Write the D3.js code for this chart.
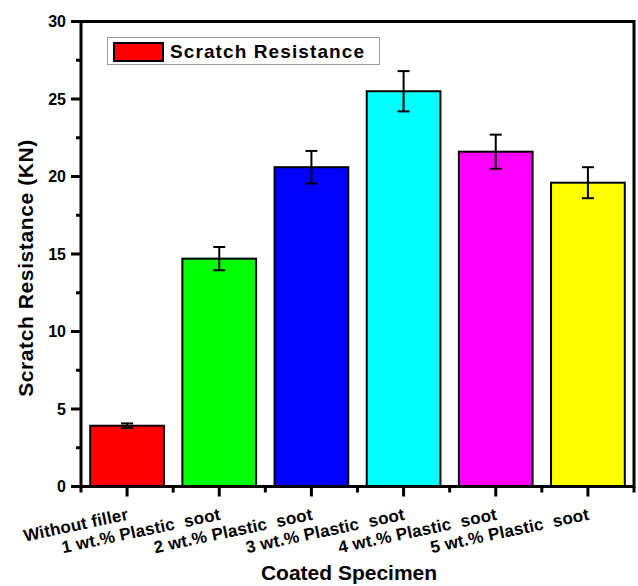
<!DOCTYPE html>
<html>
<head>
  <meta charset="UTF-8">
  <style>
    body { margin: 0; background: #fff; }
    text { font-family: Arial, "Liberation Sans", sans-serif; font-weight: bold; }
  </style>
</head>
<body>
<svg></svg>
<script src="https://d3js.org/d3.v7.min.js"></script>
<script>

let width = 638, height = 586;

// data
let categories = ["Without filler", "1 wt.% Plastic  soot", "2 wt.% Plastic  soot",
                  "3 wt.% Plastic  soot", "4 wt.% Plastic  soot", "5 wt.% Plastic  soot"];
let values = [3.92, 14.7, 20.6, 25.5, 21.6, 19.6];
let errors = [0.15, 0.75, 1.05, 1.3, 1.1, 1.0];
let colors = ["#ff0000", "#00ff00", "#0000ff", "#00ffff", "#ff00ff", "#ffff00"];
let yTicks = [0, 5, 10, 15, 20, 25, 30];

let margin = {left: 81, right: 4, top: 21.5, bottom: 99.5};

let svg = d3.select("svg")
    .attr("width", width)
    .attr("height", height);

let x = d3.scaleBand()
    .domain(categories)
    .range([margin.left, width - margin.right])
    .paddingInner(0.2)
    .paddingOuter(0.1);

let y = d3.scaleLinear()
    .domain([0, 30])
    .range([height - margin.bottom, margin.top]);

let y0 = y(0);

// bars
svg.append("g")
    .selectAll("rect")
    .data(values)
    .enter()
    .append("rect")
    .attr("x", (d, i) => x(categories[i]))
    .attr("y", d => y(d))
    .attr("width", x.bandwidth())
    .attr("height", d => y0 - y(d))
    .attr("fill", (d, i) => colors[i])
    .attr("stroke", "#000")
    .attr("stroke-width", 2);

// error bars
let eb = svg.append("g")
    .attr("stroke", "#000")
    .attr("stroke-width", 2);
values.forEach((v, i) => {
    let cx = x(categories[i]) + x.bandwidth() / 2;
    eb.append("line").attr("x1", cx).attr("x2", cx)
        .attr("y1", y(v + errors[i])).attr("y2", y(v - errors[i]));
    eb.append("line").attr("x1", cx - 6).attr("x2", cx + 6)
        .attr("y1", y(v + errors[i])).attr("y2", y(v + errors[i]));
    eb.append("line").attr("x1", cx - 6).attr("x2", cx + 6)
        .attr("y1", y(v - errors[i])).attr("y2", y(v - errors[i]));
});

// frame
svg.append("rect")
    .attr("x", margin.left)
    .attr("y", margin.top)
    .attr("width", width - margin.right - margin.left)
    .attr("height", y0 - margin.top)
    .attr("fill", "none")
    .attr("stroke", "#000")
    .attr("stroke-width", 3);

// y axis
let yAxis = svg.append("g");
yAxis.selectAll(".minor")
    .data(d3.range(2.5, 30, 5))
    .enter().append("line")
    .attr("x1", margin.left - 5).attr("x2", margin.left)
    .attr("y1", d => y(d)).attr("y2", d => y(d))
    .attr("stroke", "#000").attr("stroke-width", 3);
yAxis.selectAll(".major")
    .data(yTicks)
    .enter().append("line")
    .attr("x1", margin.left - 10).attr("x2", margin.left)
    .attr("y1", d => y(d)).attr("y2", d => y(d))
    .attr("stroke", "#000").attr("stroke-width", 3);
yAxis.selectAll("text")
    .data(yTicks)
    .enter().append("text")
    .attr("x", margin.left - 15)
    .attr("y", d => y(d))
    .attr("dy", "0.36em")
    .attr("text-anchor", "end")
    .attr("font-size", 16)
    .text(d => d);

// x axis ticks
let xAxis = svg.append("g");
let bounds = categories.map(c => x(c) - x.step() * x.paddingInner() / 2);
bounds.push(width - margin.right);
xAxis.selectAll(".minor")
    .data(bounds)
    .enter().append("line")
    .attr("x1", d => d).attr("x2", d => d)
    .attr("y1", y0).attr("y2", y0 + 6)
    .attr("stroke", "#000").attr("stroke-width", 3);
xAxis.selectAll(".major")
    .data(categories)
    .enter().append("line")
    .attr("x1", d => x(d) + x.bandwidth() / 2).attr("x2", d => x(d) + x.bandwidth() / 2)
    .attr("y1", y0).attr("y2", y0 + 10)
    .attr("stroke", "#000").attr("stroke-width", 3);
xAxis.selectAll("text")
    .data(categories)
    .enter().append("text")
    .attr("transform", d => "translate(" + (x(d) + x.bandwidth() / 2 + 2) + "," + (y0 + 33) + ") rotate(-12)")
    .attr("text-anchor", "end")
    .attr("font-size", 17)
    .attr("letter-spacing", 0.2)
    .style("white-space", "pre")
    .text(d => d);

// axis titles
svg.append("text")
    .attr("x", 349)
    .attr("y", 580)
    .attr("text-anchor", "middle")
    .attr("font-size", 21)
    .text("Coated Specimen");

svg.append("text")
    .attr("transform", "translate(33,268) rotate(-90)")
    .attr("text-anchor", "middle")
    .attr("font-size", 21)
    .attr("letter-spacing", 0.6)
    .text("Scratch Resistance (KN)");

// legend
let legend = svg.append("g");
legend.append("rect")
    .attr("x", 107.5).attr("y", 37.5)
    .attr("width", 272).attr("height", 27)
    .attr("fill", "#fff")
    .attr("stroke", "#999").attr("stroke-width", 1);
legend.append("rect")
    .attr("x", 114).attr("y", 43)
    .attr("width", 49).attr("height", 18)
    .attr("fill", colors[0])
    .attr("stroke", "#000").attr("stroke-width", 2);
legend.append("text")
    .attr("x", 170).attr("y", 58)
    .attr("font-size", 19)
    .attr("letter-spacing", 1.1)
    .text("Scratch Resistance");

</script>
</body>
</html>
